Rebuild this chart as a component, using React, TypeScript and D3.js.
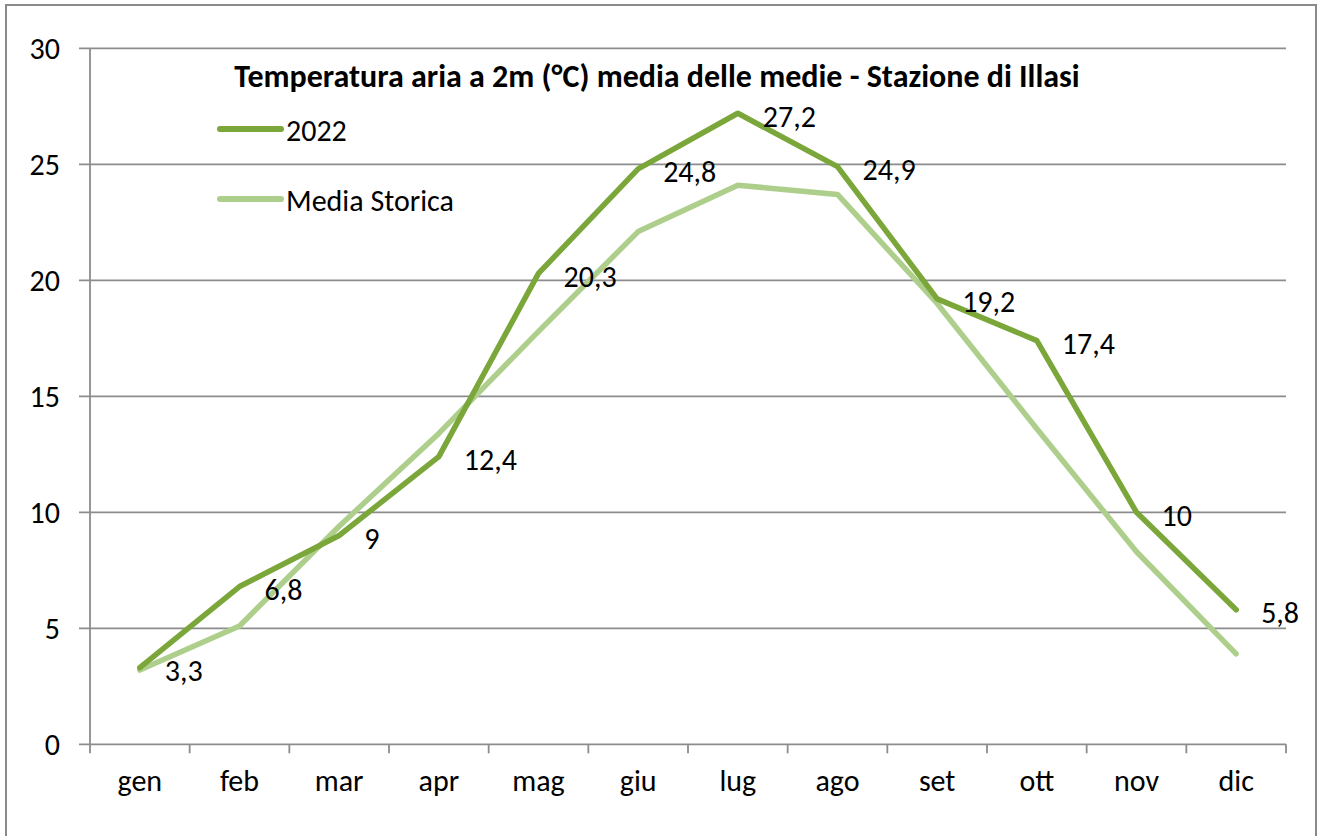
import React from "react";
import * as d3 from "d3";

const months = ["gen", "feb", "mar", "apr", "mag", "giu", "lug", "ago", "set", "ott", "nov", "dic"];
const values2022 = [3.3, 6.8, 9, 12.4, 20.3, 24.8, 27.2, 24.9, 19.2, 17.4, 10, 5.8];
const valuesStorica = [3.2, 5.1, 9.4, 13.4, 17.8, 22.1, 24.1, 23.7, 19.0, 13.6, 8.3, 3.9];
const yTicks = [0, 5, 10, 15, 20, 25, 30];
const seriesNames = ["2022", "Media Storica"];
const title = "Temperatura aria a 2m (°C) media delle medie - Stazione di Illasi";

const W = 1319;
const H = 836;
const plot = { left: 90, right: 1286, top: 48.3, bottom: 744.3 };
const COL_DARK = "#7BA63A";
const COL_LIGHT = "#AECF8C";
const GRID = "#8C8C8C";
const FONT = "Carlito, Calibri, Lato, sans-serif";
const FS = 30;

export default function App() {
  const x = d3.scaleBand<string>().domain(months).range([plot.left, plot.right]);
  const y = d3.scaleLinear().domain([0, 30]).range([plot.bottom, plot.top]);
  const cx = (m: string) => (x(m) as number) + x.bandwidth() / 2;
  const line = d3
    .line<number>()
    .x((_, i) => cx(months[i]))
    .y((v) => y(v));
  const fmt = (v: number) => String(v).replace(".", ",");
  const boundaries = d3.range(months.length + 1).map((i) => plot.left + i * x.bandwidth());

  return (
    <svg
      width={W}
      height={H}
      style={{ position: "absolute", left: 0, top: 0, background: "#fff" }}
      fontFamily={FONT}
    >
      <rect x={6} y={5} width={1310} height={840} fill="#fff" stroke="#8a8a8a" strokeWidth={2} />
      {yTicks.map((t) => (
        <g key={t}>
          <line x1={79} x2={plot.right} y1={y(t)} y2={y(t)} stroke={GRID} strokeWidth={1.8} />
          <text x={60} y={y(t)} dy="0.35em" textAnchor="end" fontSize={FS} fill="#000">
            {t}
          </text>
        </g>
      ))}
      <line x1={plot.left} x2={plot.left} y1={plot.top} y2={plot.bottom} stroke={GRID} strokeWidth={1.8} />
      {boundaries.map((bx, i) => (
        <line key={i} x1={bx} x2={bx} y1={plot.bottom} y2={plot.bottom + 9} stroke={GRID} strokeWidth={1.8} />
      ))}
      {months.map((m) => (
        <text key={m} x={cx(m)} y={791} textAnchor="middle" fontSize={FS} fill="#000">
          {m}
        </text>
      ))}
      <path d={line(valuesStorica) || ""} fill="none" stroke={COL_LIGHT} strokeWidth={5.5} strokeLinejoin="round" strokeLinecap="round" />
      <path d={line(values2022) || ""} fill="none" stroke={COL_DARK} strokeWidth={5.5} strokeLinejoin="round" strokeLinecap="round" />
      {values2022.map((v, i) => (
        <text key={i} x={cx(months[i]) + 25} y={y(v) + 3} dy="0.35em" fontSize={FS} fill="#000">
          {fmt(v)}
        </text>
      ))}
      <text x={657} y={87} textAnchor="middle" fontSize={32} fontWeight="bold" fill="#000">
        {title}
      </text>
      {seriesNames.map((s, i) => (
        <g key={s}>
          <line
            x1={220}
            x2={281}
            y1={129 + i * 70}
            y2={129 + i * 70}
            stroke={i === 0 ? COL_DARK : COL_LIGHT}
            strokeWidth={6}
            strokeLinecap="round"
          />
          <text x={286} y={130 + i * 70} dy="0.35em" fontSize={FS} fill="#000">
            {s}
          </text>
        </g>
      ))}
    </svg>
  );
}
